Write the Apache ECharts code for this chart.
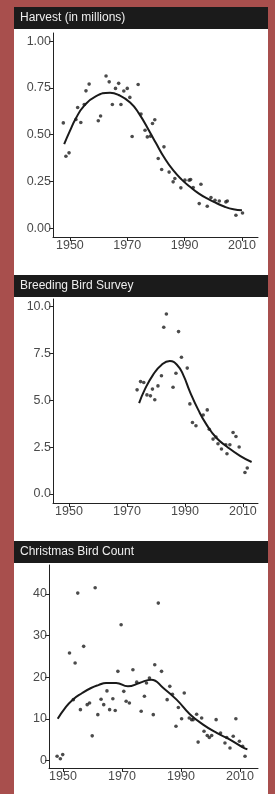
<!DOCTYPE html>
<html>
<head>
<meta charset="utf-8">
<script src="https://cdn.jsdelivr.net/npm/echarts@6/dist/echarts.min.js"></script>
<style>
html,body{margin:0;padding:0;background:#a84f4d;}
#c{width:275px;height:794px;}
</style>
</head>
<body>
<div id="c"></div>
<script>
// ---- Panel titles ----
const panelTitles = ["Harvest (in millions)", "Breeding Bird Survey", "Christmas Bird Count"];

// ---- Tick labels ----
const xTicks = [1950, 1970, 1990, 2010];
const harvestTicks = [0, 0.25, 0.5, 0.75, 1.0];
const bbsTicks = [0, 2.5, 5, 7.5, 10];
const cbcTicks = [0, 10, 20, 30, 40];

// ---- Harvest (in millions) ----
const harvestYears = [1947.7,1948.6,1949.7,1952.1,1952.7,1953.8,1955,1955.6,1956.7,1959.9,1960.7,1962.6,1963.7,1964.8,1965.9,1967,1967.8,1968.8,1970,1970.9,1971.7,1973.8,1974.8,1976.2,1977,1978.1,1978.8,1979.6,1980.8,1982,1982.8,1984.6,1986,1986.6,1988.7,1990.1,1991.6,1992.1,1993,1995.1,1995.7,1997.9,1999.2,2000.6,2002.1,2004.4,2004.9,2007.9,2010.2];
const harvestValues = [0.563,0.385,0.403,0.581,0.645,0.565,0.661,0.734,0.770,0.574,0.600,0.813,0.782,0.661,0.747,0.774,0.661,0.733,0.747,0.699,0.49,0.768,0.61,0.524,0.488,0.492,0.56,0.58,0.373,0.314,0.435,0.30,0.248,0.266,0.216,0.257,0.257,0.26,0.218,0.132,0.235,0.118,0.164,0.15,0.146,0.141,0.146,0.07,0.082];
const harvestFitYears = [1948,1950,1952,1955,1959,1964,1967,1971,1974,1978,1980,1983,1986,1989,1992,1995,1998,2001,2004,2007,2010];
const harvestFitValues = [0.45,0.52,0.585,0.655,0.705,0.724,0.712,0.672,0.615,0.51,0.455,0.375,0.31,0.26,0.22,0.185,0.158,0.135,0.115,0.102,0.097];

// ---- Breeding Bird Survey ----
const bbsYears = [1973.5,1974.7,1975.8,1976.9,1978.1,1978.8,1979.6,1980.7,1981.9,1982.7,1983.6,1985.9,1986.9,1987.8,1988.8,1990.8,1991.7,1992.6,1993.8,1996.3,1997.7,1998.4,1999.7,2000.7,2001.4,2002.6,2004.1,2004.5,2005.5,2006.6,2007.6,2008.7,2010.7,2011.5];
const bbsValues = [5.56,6.0,5.95,5.29,5.24,5.60,5.03,5.77,6.31,8.90,9.61,5.70,6.45,8.67,7.30,6.72,4.81,3.82,3.64,4.22,4.49,3.46,2.93,3.04,2.68,2.40,2.63,2.15,2.63,3.28,3.07,2.51,1.15,1.39];
const bbsFitYears = [1974.2,1976.1,1979,1981.9,1984.8,1987.3,1989.4,1991.7,1994.6,1997.5,2000.9,2004.4,2009,2013];
const bbsFitValues = [4.85,5.56,6.36,6.89,7.1,6.89,6.36,5.47,4.49,3.69,2.99,2.54,2.04,1.71];

// ---- Christmas Bird Count ----
const cbcYears = [1948,1949.1,1949.9,1952.2,1953.5,1954.1,1955,1955.9,1957,1958.2,1959,1959.9,1960.9,1961.8,1962.9,1963.8,1964.9,1965.8,1966.9,1967.7,1968.6,1969.7,1970.6,1971.4,1972.5,1973.7,1975,1976.5,1977.6,1978.3,1979.3,1980.6,1981.1,1982.3,1983.4,1985.3,1986.2,1987.1,1988.3,1989.1,1990.2,1991.1,1992.8,1993.6,1994.1,1995.3,1995.8,1997,1997.8,1998.9,1999.6,2000.4,2001.9,2003.4,2004.9,2005.5,2006.6,2007.7,2008.6,2009.8,2010.9,2011.7];
const cbcValues = [1.0,0.4,1.4,25.8,14.6,23.4,40.2,12.2,27.4,13.4,13.8,5.9,41.5,11.0,14.7,13.4,16.7,12.2,14.8,12.0,21.4,32.6,16.6,14.2,13.8,21.8,18.8,11.8,15.4,18.6,19.8,11.0,23.0,37.8,21.4,14.6,17.8,15.9,8.2,12.7,10.0,16.2,10.2,9.8,9.8,11.1,4.4,10.2,7.0,6.0,5.5,6.0,9.8,6.6,4.2,5.5,3.0,5.8,10.0,4.6,3.4,1.0];
const cbcFitYears = [1948.2,1950.5,1953.3,1956.5,1959.5,1962,1964.6,1968,1972,1975.9,1979.9,1984,1988.5,1993,1997.5,2002.1,2006.6,2011.1,2012.5];
const cbcFitValues = [10.0,12.4,14.6,16.2,17.4,18.1,18.6,18.6,17.8,18.6,19.4,17.4,14.6,11.1,8.6,6.6,5.0,3.1,2.7];

function pairs(xs, ys){ return xs.map((x,i)=>[x, ys[i]]); }

const font = 'Liberation Sans, Arial, sans-serif';
const axisCol = '#222';
const labelStyle = {color:'#4a4a4a', fontSize:12.5, fontFamily:font};

const grids = [
  {left:53, top:33, width:205, height:204},
  {left:53, top:299, width:205, height:204},
  {left:49, top:565, width:209, height:203}
];
const xRanges = [[1944.1,2015.6],[1944.5,2015.2],[1945.25,2016.1]];
const yRanges = [[-0.0465,1.043],[-0.48,10.41],[-1.82,46.95]];
const yTickSets = [harvestTicks, bbsTicks, cbcTicks];
const yFormat = [v=>v.toFixed(2), v=>v.toFixed(1), v=>String(v)];

const xAxes = grids.map((g,i)=>({
  type:'value', gridIndex:i, min:xRanges[i][0], max:xRanges[i][1],
  splitLine:{show:false},
  axisLine:{show:true, onZero:false, lineStyle:{color:axisCol, width:1}},
  axisTick:{show:true, length:4, customValues:xTicks, lineStyle:{color:axisCol}},
  axisLabel:Object.assign({customValues:xTicks, margin:2, formatter:v=>String(v)}, labelStyle)
}));
const yAxes = grids.map((g,i)=>({
  type:'value', gridIndex:i, min:yRanges[i][0], max:yRanges[i][1],
  splitLine:{show:false},
  axisLine:{show:true, onZero:false, lineStyle:{color:axisCol, width:1}},
  axisTick:{show:true, length:4, customValues:yTickSets[i], lineStyle:{color:axisCol}},
  axisLabel:Object.assign({customValues:yTickSets[i], margin:2, formatter:yFormat[i]}, labelStyle)
}));

const scatterData = [pairs(harvestYears,harvestValues), pairs(bbsYears,bbsValues), pairs(cbcYears,cbcValues)];
const fitData = [pairs(harvestFitYears,harvestFitValues), pairs(bbsFitYears,bbsFitValues), pairs(cbcFitYears,cbcFitValues)];

const series = [];
for(let i=0;i<3;i++){
  series.push({type:'scatter', xAxisIndex:i, yAxisIndex:i, data:scatterData[i], symbol:'circle', symbolSize:3.6, itemStyle:{color:'#1e1e1e'}, silent:true, z:3});
  series.push({type:'line', xAxisIndex:i, yAxisIndex:i, data:fitData[i], smooth:0.5, showSymbol:false, lineStyle:{color:'#1a1a1a', width:2}, silent:true, z:4});
}

const headerTops = [7, 275, 541];
const graphic = [
  {type:'rect', left:14, top:7, shape:{width:254, height:787}, style:{fill:'#ffffff'}, z:-10, silent:true}
];
headerTops.forEach((t,i)=>{
  graphic.push({type:'rect', left:14, top:t, shape:{width:254, height:22}, style:{fill:'#1b1b1b'}, z:-5, silent:true});
  graphic.push({type:'text', left:20, top:t+5, style:{text:panelTitles[i], fill:'#eeeeee', font:'12px '+font}, z:-4, silent:true});
});

const chart = echarts.init(document.getElementById('c'), null, {renderer:'canvas'});
chart.setOption({
  animation:false,
  backgroundColor:'#a84f4d',
  graphic:graphic,
  grid:grids,
  xAxis:xAxes,
  yAxis:yAxes,
  series:series
});
</script>
</body>
</html>
